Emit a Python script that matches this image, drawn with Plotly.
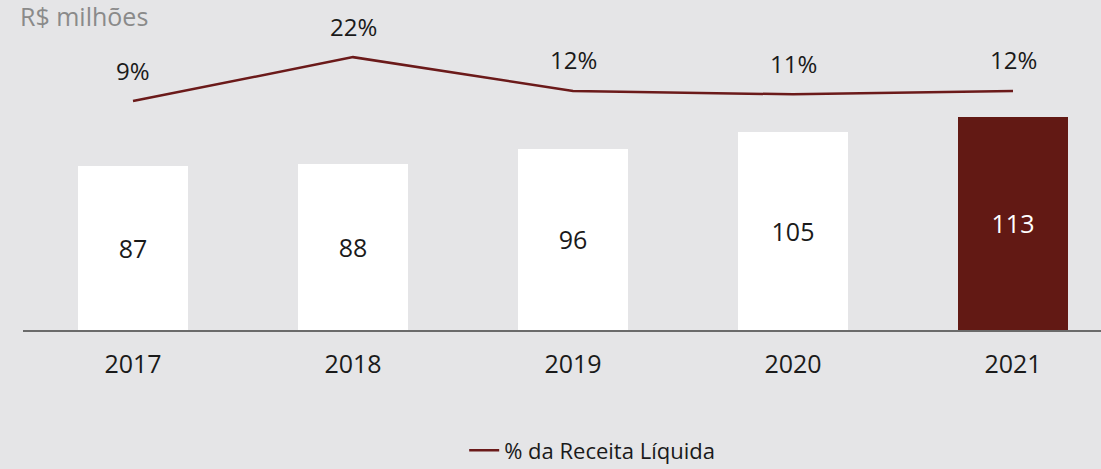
import plotly.graph_objects as go

years = ["2017", "2018", "2019", "2020", "2021"]
valores = [87, 88, 96, 105, 113]
percentual = [9, 22, 12, 11, 12]
pct_labels = ["9%", "22%", "12%", "11%", "12%"]

FONT = "Open Sans"
BG = "#E5E5E7"
RED = "#621914"
LINE = "#6B1A1A"

bar_colors = ["#FFFFFF"] * 4 + [RED]
text_colors = ["#1A1A1A"] * 4 + ["#FFFFFF"]

fig = go.Figure()
fig.add_trace(go.Bar(
    x=years, y=valores, width=0.5,
    marker=dict(color=bar_colors, line=dict(width=0)),
    text=[str(v) for v in valores], textposition="inside",
    insidetextanchor="middle", textangle=0,
    textfont=dict(family=FONT, size=25, color=text_colors),
    showlegend=False, hoverinfo="skip",
))
fig.add_trace(go.Scatter(
    x=years, y=percentual, yaxis="y2", mode="lines",
    line=dict(color=LINE, width=2.5),
    name="% da Receita Líquida",
))
for i, (p, lab) in enumerate(zip(percentual, pct_labels)):
    fig.add_annotation(x=i, y=p, xref="x", yref="y2", text=lab, showarrow=False,
                       yshift=31, font=dict(family=FONT, size=24, color="#1A1A1A"))

fig.add_annotation(xref="paper", yref="paper", x=0, y=1, xanchor="left", yanchor="top",
                   xshift=-5, yshift=3, text="R$ milhões", showarrow=False,
                   font=dict(family=FONT, size=25, color="#8A8A8A"))

fig.update_layout(
    width=1101, height=469, autosize=False,
    paper_bgcolor=BG, plot_bgcolor=BG,
    margin=dict(l=23, r=0, t=0, b=139, autoexpand=False),
    xaxis=dict(type="category", range=[-0.5, 4.4], showline=True, linecolor="#6B6B6B",
               linewidth=2, showgrid=False, ticks="outside", ticklen=11,
               tickcolor="rgba(0,0,0,0)",
               tickfont=dict(family=FONT, size=25, color="#1A1A1A")),
    yaxis=dict(range=[0, 175], visible=False, showgrid=False),
    yaxis2=dict(range=[-58.7, 38.9], overlaying="y", visible=False, showgrid=False),
    legend=dict(orientation="h", x=0.528, xanchor="center",
                y=-0.365, yanchor="middle",
                font=dict(family=FONT, size=22, color="#1A1A1A"),
                bgcolor="rgba(0,0,0,0)"),
    showlegend=True,
)

fig.write_html("out.html", config={"displayModeBar": False},
               post_script="document.body.style.margin='0';document.body.style.overflow='hidden';")
